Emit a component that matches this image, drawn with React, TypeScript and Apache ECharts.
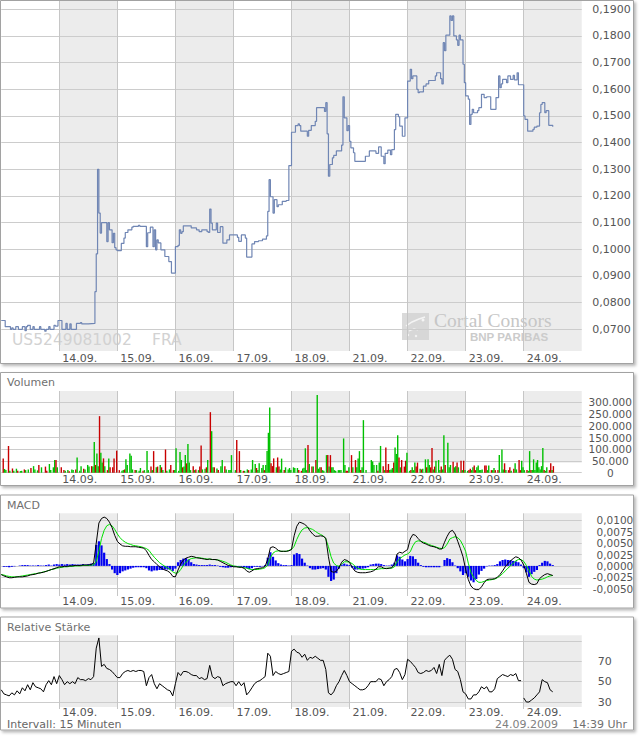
import React, { useEffect, useRef } from "react";
import * as echarts from "echarts";

// ---------------- data ----------------
// x unit: one 15-minute interval; a trading day runs 09:00–20:00 = 44 intervals
const SLOTS_PER_DAY = 44;
const SAMPLE_STEP = 2; // indicator values are read every half hour (2 intervals)
const DAY_LABELS = ["11.09.", "14.09.", "15.09.", "16.09.", "17.09.", "18.09.", "21.09.", "22.09.", "23.09.", "24.09."];
const SHADED_DAYS = [1, 3, 5, 7, 9];

const PRICE_TICKS = { min: 0.07, max: 0.19, step: 0.01 };
const VOLUME_TICKS = { min: 0, max: 300000, step: 50000 };
const MACD_TICKS = { min: -0.005, max: 0.01, step: 0.0025 };
const RSI_TICKS = { min: 30, max: 90, step: 20 };
const RSI_UNLABELED = [90];

// price steps: [interval within day, price in EUR]
const PRICE_1109 = [[0, 0.0733], [3, 0.071], [7, 0.07], [8, 0.0705], [9, 0.07], [11, 0.071], [13, 0.07], [16, 0.071], [18, 0.0695], [19, 0.071], [20, 0.0715], [22, 0.07], [24, 0.071], [25, 0.07], [29, 0.071], [30, 0.07], [33, 0.0693], [34, 0.07], [36, 0.071], [37, 0.07], [40, 0.0715], [41, 0.0712], [43, 0.0733]];
const PRICE_1409 = [[0, 0.0733], [2, 0.07], [5, 0.0722], [6, 0.07], [8, 0.072], [9, 0.07], [13, 0.0722], [16, 0.0725], [17, 0.072], [22, 0.0722], [27, 0.0841], [28, 0.0983], [29, 0.13], [30, 0.1136], [31, 0.1061], [32, 0.11], [36, 0.1029], [37, 0.11], [38, 0.1073], [40, 0.1025], [41, 0.106], [42, 0.1006], [43, 0.0998]];
const PRICE_1509 = [[0, 0.0995], [3, 0.1022], [5, 0.1042], [6, 0.1063], [8, 0.1073], [11, 0.1083], [12, 0.1086], [16, 0.109], [17, 0.1086], [22, 0.101], [23, 0.1062], [25, 0.1083], [27, 0.101], [28, 0.1073], [29, 0.0998], [30, 0.1035], [31, 0.1024], [33, 0.0998], [36, 0.0973], [39, 0.0954], [41, 0.0911]];
const PRICE_1609 = [[0, 0.101], [2, 0.1015], [3, 0.1073], [4, 0.106], [5, 0.1066], [6, 0.1088], [12, 0.108], [16, 0.1073], [18, 0.1066], [20, 0.1073], [24, 0.1066], [25, 0.1063], [26, 0.1151], [27, 0.1098], [28, 0.1073], [31, 0.1098], [32, 0.1063], [34, 0.1085], [36, 0.1023], [39, 0.1035], [41, 0.1054]];
const PRICE_1709 = [[0, 0.1054], [3, 0.1045], [4, 0.103], [6, 0.1054], [9, 0.1042], [10, 0.0971], [14, 0.102], [16, 0.1029], [19, 0.1032], [22, 0.1038], [25, 0.105], [26, 0.1142], [27, 0.1261], [28, 0.1197], [30, 0.1136], [31, 0.1186], [33, 0.116], [34, 0.1167], [37, 0.118], [40, 0.1183], [42, 0.1314]];
const PRICE_1809 = [[0, 0.1439], [3, 0.1464], [5, 0.147], [6, 0.1464], [7, 0.1443], [12, 0.1424], [13, 0.1446], [15, 0.1464], [18, 0.148], [19, 0.1531], [25, 0.1517], [26, 0.155], [27, 0.1433], [28, 0.1274], [29, 0.1318], [31, 0.1343], [32, 0.1352], [34, 0.1369], [38, 0.1391], [39, 0.1572], [40, 0.1493], [42, 0.1445], [43, 0.1464]];
const PRICE_2109 = [[0, 0.1405], [1, 0.138], [3, 0.1362], [4, 0.133], [12, 0.1349], [15, 0.1369], [20, 0.136], [22, 0.1384], [24, 0.1349], [26, 0.1321], [27, 0.136], [29, 0.1372], [31, 0.1355], [32, 0.1374], [34, 0.1449], [35, 0.1506], [37, 0.1497], [38, 0.1462], [40, 0.1424], [42, 0.1493]];
const PRICE_2209 = [[0, 0.1631], [2, 0.1675], [3, 0.164], [4, 0.165], [7, 0.16], [8, 0.1587], [9, 0.159], [12, 0.1612], [14, 0.162], [16, 0.1633], [21, 0.165], [22, 0.1662], [25, 0.164], [26, 0.162], [27, 0.1775], [28, 0.1745], [29, 0.1803], [32, 0.1875], [33, 0.1858], [34, 0.1875], [35, 0.18], [37, 0.1785], [38, 0.1765], [39, 0.1803], [40, 0.1785], [42, 0.1694], [43, 0.1625]];
const PRICE_2309 = [[0, 0.1575], [2, 0.1563], [3, 0.1468], [4, 0.1506], [5, 0.1525], [6, 0.1512], [9, 0.152], [10, 0.1531], [12, 0.1581], [14, 0.1569], [16, 0.1572], [19, 0.1525], [23, 0.1569], [25, 0.165], [26, 0.1606], [27, 0.162], [28, 0.1637], [31, 0.1625], [32, 0.165], [34, 0.1637], [36, 0.1652], [37, 0.1635], [39, 0.1662], [40, 0.1617]];
const PRICE_2409 = [[0, 0.15], [1, 0.1487], [3, 0.1443], [7, 0.145], [8, 0.1458], [10, 0.1462], [12, 0.1512], [13, 0.1543], [14, 0.155], [16, 0.1512], [17, 0.152], [19, 0.1465], [22, 0.146]];
const PRICE_DAYS = [PRICE_1109, PRICE_1409, PRICE_1509, PRICE_1609, PRICE_1709, PRICE_1809, PRICE_2109, PRICE_2209, PRICE_2309, PRICE_2409];

// volume per 15-minute interval, in thousands; negative = traded on a down tick
const VOL_1109 = [0, -61, 16, 11, 0, -114, 8, 0, -18, 8, 0, 17, -8, 0, 7, 8, 0, -14, 11, 0, 14, 0, -20, 0, 28, 14, 0, 10, -33, 0, 23, 0, 0, -26, -8, 0, 37, 11, 0, 23, 54, -54, 23, 0];
const VOL_1409 = [0, -23, 0, -11, 8, 0, 11, -6, 0, 14, 11, 0, -14, 65, 0, 8, 28, 0, -17, 14, 0, 33, 26, 0, -28, 26, 131, -33, 82, 28, -241, 85, 43, -61, 28, 0, -11, 61, -23, 0, -23, -61, 0, -94];
const VOL_1509 = [0, -11, 0, 8, 11, -14, 57, 33, 0, 82, 72, 14, 0, -11, 11, 0, 8, 20, 0, -8, 11, 0, 92, 11, 0, -26, 11, -92, 0, 23, -26, 0, 33, -23, 11, 0, -99, 8, 0, 14, -33, 0, -11, 11];
const VOL_1609 = [104, 0, 8, 88, 54, -23, 26, 75, -40, 122, 43, 11, 0, -28, 11, -14, 0, 11, -26, -116, 14, 0, 17, -23, 54, 0, -258, 177, 23, -23, 0, 18, -11, 0, 28, 54, 0, -28, 14, 0, 11, 11, 75, 0];
const VOL_1709 = [0, 11, -139, 0, -92, 11, 0, -8, 8, 0, 14, -11, 0, 14, 54, 0, 37, -20, 11, 40, 0, 20, 33, -11, 33, 92, 170, 278, -40, -28, -61, 0, 23, -65, -26, 14, 60, 0, -11, 23, 0, 14, 20, 11];
const VOL_1809 = [0, 23, 20, 0, 20, -11, 0, -8, 18, 21, 104, 11, -118, 37, 0, -26, 26, 0, -54, 331, 17, 23, -23, 11, 8, 0, 75, -75, 26, -75, 23, 23, 11, 8, 0, 11, 11, 11, 0, 146, 33, -8, -8, 23];
const VOL_2109 = [0, -75, 23, 0, -54, 23, 61, 92, -11, 23, 224, 0, 11, 0, 0, 0, 54, 48, 33, 0, 33, -8, 43, 114, 0, -28, 11, -107, -11, -37, 11, 14, 20, -43, 107, 80, 160, -65, 23, -54, 0, -26, -51, 85];
const VOL_2209 = [0, 8, -11, 23, 11, 43, -26, -43, 0, 17, -14, 17, 0, 57, -23, 57, 33, -23, -105, 14, -26, 51, 0, 54, 11, -26, 14, 160, -33, 0, 128, 23, 33, 0, -47, 23, 28, -43, 23, 0, -51, 11, -51, 11];
const VOL_2309 = [0, 8, -11, -17, 11, 23, -31, -11, 23, 31, 11, 11, 14, 0, -31, -31, 11, 31, 0, -11, 11, 20, -11, 0, -11, 75, 0, 99, 14, -40, 11, 0, -11, -23, 8, 0, -17, 40, 14, 0, -54, -11, 51, 23];
const VOL_2409 = [11, 0, -11, 8, 92, -11, 11, 57, 11, 43, 54, 23, 14, 28, 105, -11, 8, 23, 0, -11, -40, 11, -28];
const VOLUME_DAYS = [VOL_1109, VOL_1409, VOL_1509, VOL_1609, VOL_1709, VOL_1809, VOL_2109, VOL_2209, VOL_2309, VOL_2409];

// MACD (x 0.001), half-hourly
const MACD_1109 = [-1.9, -2.2, -2.4, -2.6, -2.6, -2.5, -2.4, -2.4, -2.4, -2.3, -2.2, -2.0, -1.9, -1.8, -1.6, -1.5, -1.4, -1.2, -1.0, -0.8, -0.6, -0.4];
const MACD_1409 = [-0.2, -0.2, -0.1, -0.1, 0, 0, 0.1, 0.1, 0.1, 0.2, 0.2, 0.2, 0.3, 0.6, 5.0, 9.4, 10.4, 10.7, 10.4, 9.6, 8.4, 6.7];
const MACD_1509 = [5.4, 4.8, 4.4, 4.3, 4.3, 4.2, 4.2, 4.2, 4.1, 4.0, 3.9, 3.3, 2.3, 1.4, 0.9, 0.3, -0.2, -0.6, -0.9, -1.1, -1.5, -2.3];
const MACD_1609 = [-2.4, -0.9, 0.4, 1.3, 1.7, 1.9, 2.1, 2.0, 1.8, 1.7, 1.6, 1.5, 1.4, 1.5, 1.4, 1.4, 1.3, 1.0, 0.7, 0.4, 0.1, 0];
const MACD_1709 = [-0.2, -0.2, -0.3, -0.3, -0.5, -1.1, -1.4, -1.1, -0.7, -0.6, -0.5, -0.4, -0.1, 1.5, 4.0, 4.2, 3.9, 3.4, 3.2, 3.2, 3.2, 3.3];
const MACD_1809 = [3.6, 6.6, 8.7, 9.6, 9.4, 9.1, 8.6, 7.7, 7.0, 6.5, 6.5, 6.6, 6.5, 6.1, 2.0, -1.2, -1.4, -1.2, -0.4, 0.8, 1.4, 1.2];
const MACD_2109 = [0.8, -0.3, -1.1, -1.4, -1.5, -1.5, -1.5, -1.4, -1.3, -1.1, -0.7, -0.2, -0.2, -0.5, -0.6, -0.5, -0.4, 0.4, 2.6, 3.0, 2.8, 3.2];
const MACD_2209 = [3.6, 5.9, 6.9, 6.7, 6.0, 5.4, 5.0, 4.8, 4.5, 4.3, 4.2, 4.0, 3.7, 3.7, 5.2, 6.5, 7.5, 7.8, 7.0, 5.4, 3.8, 2.0];
const MACD_2309 = [-0.8, -3.0, -4.4, -5.0, -5.2, -5.2, -4.6, -3.7, -3.0, -2.9, -2.9, -2.8, -2.5, -1.9, -1.1, -0.2, 0.5, 1.1, 1.6, 2.0, 1.8, 1.3];
const MACD_2409 = [0.2, -1.6, -3.6, -4.0, -4.1, -3.9, -2.8, -2.3, -1.9, -1.7, -1.9, -2.1];
const MACD_DAYS = [MACD_1109, MACD_1409, MACD_1509, MACD_1609, MACD_1709, MACD_1809, MACD_2109, MACD_2209, MACD_2309, MACD_2409];

const SIGNAL_1109 = [-1.9, -2.0, -2.2, -2.3, -2.4, -2.4, -2.4, -2.3, -2.2, -2.1, -2.0, -1.9, -1.8, -1.7, -1.6, -1.5, -1.3, -1.2, -1.0, -0.8, -0.7, -0.5];
const SIGNAL_1409 = [-0.4, -0.3, -0.2, -0.2, -0.1, -0.1, 0, 0, 0, 0.1, 0.1, 0.1, 0.2, 0.2, 1.0, 3.2, 6.0, 7.8, 8.8, 9.1, 8.8, 8.0];
const SIGNAL_1509 = [7.0, 6.2, 5.6, 5.2, 4.9, 4.7, 4.5, 4.4, 4.3, 4.2, 4.0, 3.8, 3.4, 2.6, 1.9, 1.3, 0.7, 0.3, -0.1, -0.4, -0.8, -1.3];
const SIGNAL_1609 = [-1.6, -1.5, -0.8, 0.1, 0.8, 1.3, 1.6, 1.7, 1.8, 1.8, 1.7, 1.6, 1.5, 1.5, 1.4, 1.4, 1.3, 1.2, 1.0, 0.8, 0.5, 0.2];
const SIGNAL_1709 = [0.0, -0.1, -0.2, -0.3, -0.4, -0.5, -0.7, -0.8, -0.8, -0.8, -0.7, -0.6, -0.4, 0.2, 1.8, 2.8, 3.2, 3.3, 3.2, 3.2, 3.2, 3.4];
const SIGNAL_1809 = [3.6, 4.3, 5.8, 7.0, 7.9, 8.3, 8.4, 8.2, 8.0, 7.6, 7.2, 6.9, 6.6, 5.9, 4.2, 2.0, 0.6, 0.1, -0.1, 0.4, 0.9, 0.9];
const SIGNAL_2109 = [0.8, 0.5, 0.0, -0.5, -0.7, -0.8, -0.8, -0.8, -0.8, -0.8, -0.8, -0.7, -0.6, -0.6, -0.5, -0.5, -0.5, -0.2, 0.9, 1.6, 2.0, 2.4];
const SIGNAL_2209 = [2.6, 3.1, 4.4, 5.3, 5.5, 5.4, 5.2, 5.0, 4.7, 4.5, 4.3, 4.1, 3.9, 3.8, 4.0, 4.8, 5.9, 6.2, 6.4, 6.2, 5.6, 4.5];
const SIGNAL_2309 = [3.2, 0.6, -1.4, -2.5, -3.2, -3.6, -3.6, -3.4, -3.2, -3.1, -3.0, -2.9, -2.6, -2.2, -1.7, -1.1, -0.5, 0.0, 0.6, 1.1, 1.4, 1.4];
const SIGNAL_2409 = [1.0, 0.1, -1.0, -2.3, -2.9, -3.1, -3.0, -2.9, -2.7, -2.4, -2.2, -2.1];
const SIGNAL_DAYS = [SIGNAL_1109, SIGNAL_1409, SIGNAL_1509, SIGNAL_1609, SIGNAL_1709, SIGNAL_1809, SIGNAL_2109, SIGNAL_2209, SIGNAL_2309, SIGNAL_2409];

const HIST_1109 = [0.0, -0.2, -0.2, -0.3, -0.2, -0.1, 0.0, 0.1, 0.2, 0.2, 0.2, 0.1, 0.1, 0.1, 0.2, 0.1, 0.1, 0.2, 0.3, 0.1, 0.3, 0.4];
const HIST_1409 = [0.3, 0.4, 0.3, 0.4, 0.3, 0.4, 0.3, 0.3, 0.3, 0.4, 0.3, 0.4, 0.5, 0.6, 4.6, 5.4, 4.5, 2.9, 1.5, 0.4, -0.8, -1.6];
const HIST_1509 = [-2.0, -1.6, -1.2, -1.0, -0.8, -0.6, -0.4, -0.3, -0.3, -0.3, -0.3, -0.5, -1.0, -1.2, -1.0, -1.0, -0.9, -0.9, -0.8, -0.8, -0.8, -1.1];
const HIST_1609 = [-0.6, 0.8, 1.3, 1.6, 1.7, 1.4, 0.8, 0.4, 0.3, 0.2, 0.2, 0.2, 0.2, 0.3, 0.2, 0.2, 0.1, -0.2, -0.3, -0.4, -0.4, -0.3];
const HIST_1709 = [-0.2, -0.2, -0.2, -0.2, -0.3, -0.5, -0.7, -0.5, -0.2, -0.2, -0.2, -0.1, 0.2, 1.8, 3.0, 2.0, 1.2, 0.6, 0.3, 0.2, 0.2, 0.1];
const HIST_1809 = [0.2, 2.5, 2.8, 2.6, 1.6, 0.7, 0.1, -0.5, -0.8, -0.8, -0.7, -0.6, -0.5, -0.8, -2.4, -3.3, -3.0, -1.6, -0.6, 0.3, 0.5, 0.3];
const HIST_2109 = [0.2, -0.4, -0.8, -0.8, -0.7, -0.6, -0.5, -0.3, 0.3, 0.4, 0.5, 0.5, 0.4, 0.2, 0.1, 0.1, 0.3, 0.7, 2.3, 2.0, 1.4, 1.0];
const HIST_2209 = [1.5, 2.2, 2.1, 1.5, 0.7, 0.2, -0.2, -0.3, -0.3, -0.3, -0.3, -0.3, -0.3, 0.0, 1.3, 1.7, 1.5, 0.8, 0.1, -0.5, -1.2, -2.0];
const HIST_2309 = [-1.6, -2.4, -3.2, -3.6, -2.9, -1.9, -1.1, -0.6, -0.1, 0.1, 0.1, 0.2, 0.4, 1.0, 1.3, 1.4, 1.3, 1.3, 1.1, 1.0, 0.8, 0.3];
const HIST_2409 = [-0.5, -1.4, -2.4, -1.8, -1.3, -0.9, 0.2, 0.7, 1.1, 1.0, 0.5, 0.2];
const HIST_DAYS = [HIST_1109, HIST_1409, HIST_1509, HIST_1609, HIST_1709, HIST_1809, HIST_2109, HIST_2209, HIST_2309, HIST_2409];

// Relative Stärke, half-hourly
const RSI_1109 = [42, 38, 37, 36, 39, 37, 41, 38, 44, 41, 47, 42, 49, 45, 44, 43, 40, 47, 51, 47, 55, 48];
const RSI_1409 = [56, 52, 47, 50, 48, 50, 48, 54, 52, 52, 51, 53, 52, 55, 83, 93, 65, 67, 63, 62, 60, 57];
const RSI_1509 = [54, 54, 58, 60, 61, 60, 61, 60, 61, 61, 60, 46, 54, 57, 48, 43, 48, 46, 44, 42, 41, 36];
const RSI_1609 = [48, 59, 56, 60, 60, 59, 57, 56, 56, 53, 54, 52, 53, 66, 55, 53, 55, 54, 46, 48, 49, 50];
const RSI_1709 = [50, 46, 50, 46, 49, 37, 40, 44, 48, 50, 51, 53, 55, 78, 75, 56, 60, 58, 57, 58, 59, 60];
const RSI_1809 = [80, 82, 79, 78, 74, 77, 71, 74, 73, 75, 73, 71, 71, 62, 39, 37, 40, 46, 50, 56, 61, 56];
const RSI_2109 = [50, 48, 46, 44, 42, 42, 43, 46, 50, 50, 50, 53, 52, 46, 50, 52, 55, 62, 63, 59, 52, 57];
const RSI_2209 = [72, 70, 67, 64, 59, 58, 59, 61, 60, 61, 64, 58, 67, 56, 71, 74, 76, 72, 62, 60, 52, 40];
const RSI_2309 = [38, 33, 33, 37, 37, 40, 45, 43, 45, 40, 40, 43, 53, 55, 57, 56, 55, 57, 56, 58, 51, 51];
const RSI_2409 = [34, 30, 30, 32, 34, 37, 40, 52, 50, 49, 42, 40];
const RSI_DAYS = [RSI_1109, RSI_1409, RSI_1509, RSI_1609, RSI_1709, RSI_1809, RSI_2109, RSI_2209, RSI_2309, RSI_2409];
const RSI_BREAK_BEFORE_DAY = 9; // the line is interrupted at the start of 24.09.

const TITLES = ["Volumen", "MACD", "Relative Stärke"];
const INSTRUMENT = "US5249081002";
const EXCHANGE = "FRA";
const FOOTER_LEFT = "Intervall: 15 Minuten";
const FOOTER_DATE = "24.09.2009";
const FOOTER_TIME = "14:39 Uhr";

// ---------------- layout / style ----------------
const FONT = '"DejaVu Sans", Verdana, sans-serif';
const LEFT = 1.25;
const WIDTH = 580.5;
const LABEL_COLOR = "#555555";
const GRID_COLOR = "#cccccc";
const BAND_COLOR = "#ececec";

const fmtPrice = (v: number) => v.toFixed(4).replace(".", ",");
const fmtVolume = (v: number) => (v === 0 ? "0" : `${Math.round(v / 1000)}.000`);
const fmtMacd = (v: number) => (Math.abs(v) < 1e-9 ? 0 : v).toFixed(4).replace(".", ",");
const fmtRsi = (v: number) => (RSI_UNLABELED.includes(Math.round(v)) ? "" : String(Math.round(v)));

const PANELS = [
  { frame: [0, 363], band: [1, 351], data: [1, 351], ticks: [9.3, 329.3], axis: PRICE_TICKS, fmt: fmtPrice, align: "left", margin: 10.5, xMargin: 7, fs: 11 },
  { frame: [372, 113], band: [391, 462.7], data: [391, 472.7], ticks: [402.3, 472.7], axis: VOLUME_TICKS, fmt: fmtVolume, align: "center", margin: 28.5, xMargin: 7, fs: 10.5 },
  { frame: [494.5, 113], band: [513.3, 585], data: [513.3, 596], ticks: [520.3, 588.7], axis: MACD_TICKS, fmt: fmtMacd, align: "right", margin: 51.5, xMargin: 5, fs: 10.5 },
  { frame: [616.5, 113], band: [635.3, 707], data: [635.3, 709], ticks: [641, 702], axis: RSI_TICKS, fmt: fmtRsi, align: "center", margin: 23, xMargin: 3.5, fs: 11 },
];

function buildOption() {
  const N = SLOTS_PER_DAY * DAY_LABELS.length;
  const grids: any[] = [];
  const xAxes: any[] = [];
  const yAxes: any[] = [];
  const series: any[] = [];

  const hiddenX = (gridIndex: number) => ({ type: "value", gridIndex, min: 0, max: N, show: false });
  const dayAxis = (gridIndex: number, margin: number) => ({
    type: "value", gridIndex, min: 0, max: N, interval: SLOTS_PER_DAY, z: 1,
    axisLine: { show: false }, axisTick: { show: false },
    splitLine: { show: true, showMinLine: false, showMaxLine: false, lineStyle: { color: "#c6c6c6", width: 1 } },
    axisLabel: {
      show: true, showMinLabel: false, showMaxLabel: false,
      formatter: (v: number) => DAY_LABELS[Math.round(v / SLOTS_PER_DAY)] ?? "",
      align: "left", verticalAlign: "middle", padding: [0, 0, 0, 3], margin, lineHeight: 10,
      color: LABEL_COLOR, fontSize: 11, fontFamily: FONT,
    },
  });

  PANELS.forEach((p: any, i: number) => {
    const gb = 3 * i, gd = 3 * i + 1, gl = 3 * i + 2;
    grids.push({ left: LEFT, width: WIDTH, top: p.band[0], height: p.band[1] - p.band[0] });
    grids.push({ left: LEFT, width: WIDTH, top: p.data[0], height: p.data[1] - p.data[0] });
    grids.push({ left: LEFT, width: WIDTH, top: p.ticks[0], height: p.ticks[1] - p.ticks[0] });
    xAxes.push(hiddenX(gb), dayAxis(gd, p.xMargin), hiddenX(gl));
    const ppu = (p.ticks[1] - p.ticks[0]) / (p.axis.max - p.axis.min);
    const dMin = p.axis.min - (p.data[1] - p.ticks[1]) / ppu;
    const dMax = p.axis.max + (p.ticks[0] - p.data[0]) / ppu;
    yAxes.push({ type: "value", gridIndex: gb, min: 0, max: 1, show: false });
    yAxes.push({ type: "value", gridIndex: gd, min: dMin, max: dMax, show: false });
    yAxes.push({
      type: "value", gridIndex: gl, min: p.axis.min, max: p.axis.max, interval: p.axis.step, position: "right", z: 1,
      axisLine: { show: false }, axisTick: { show: false },
      splitLine: { show: true, lineStyle: { color: GRID_COLOR, width: 1 } },
      axisLabel: { formatter: p.fmt, align: p.align, margin: p.margin, lineHeight: 10, color: LABEL_COLOR, fontSize: p.fs, fontFamily: FONT },
    });
    series.push({
      type: "custom", xAxisIndex: gb, yAxisIndex: gb, z: 0, silent: true,
      data: SHADED_DAYS.map((d) => [d * SLOTS_PER_DAY, (d + 1) * SLOTS_PER_DAY]),
      renderItem: (params: any, api: any) => {
        const x0 = api.coord([api.value(0), 0.5])[0];
        const x1 = api.coord([api.value(1), 0.5])[0];
        const cs = params.coordSys;
        return { type: "rect", shape: { x: x0, y: cs.y, width: x1 - x0, height: cs.height }, style: { fill: BAND_COLOR } };
      },
    });
  });

  // price
  const priceData = PRICE_DAYS.flatMap((day, d) => day.map(([s, v]) => [d * SLOTS_PER_DAY + s, v]));
  series.push({
    type: "line", xAxisIndex: 1, yAxisIndex: 1, step: "end", symbol: "none", z: 3, silent: true,
    data: priceData, lineStyle: { color: "#7086b4", width: 1.2 },
  });

  // volume
  const volumeData: any[] = [];
  VOLUME_DAYS.forEach((day, d) => day.forEach((v, s) => {
    if (v === 0) return;
    volumeData.push({ value: [d * SLOTS_PER_DAY + s + 0.5, Math.abs(v) * 1000], itemStyle: { color: v > 0 ? "#00c000" : "#c80000" } });
  }));
  series.push({ type: "bar", xAxisIndex: 4, yAxisIndex: 4, barWidth: 1.4, z: 3, silent: true, data: volumeData });

  // MACD
  const sampled = (days: number[][], scale: number) =>
    days.flatMap((day, d) => day.map((v, j) => [d * SLOTS_PER_DAY + j * SAMPLE_STEP, v * scale]));
  series.push({ type: "bar", xAxisIndex: 7, yAxisIndex: 7, barWidth: 2.2, z: 3, silent: true, itemStyle: { color: "#0000f0" }, data: sampled(HIST_DAYS, 0.001) });
  series.push({ type: "line", xAxisIndex: 7, yAxisIndex: 7, symbol: "none", z: 4, silent: true, lineStyle: { color: "#00e000", width: 1 }, data: sampled(SIGNAL_DAYS, 0.001) });
  series.push({ type: "line", xAxisIndex: 7, yAxisIndex: 7, symbol: "none", z: 5, silent: true, lineStyle: { color: "#000000", width: 1 }, data: sampled(MACD_DAYS, 0.001) });

  // RSI (two segments)
  const rsiAll = RSI_DAYS.map((day, d) => day.map((v, j) => [d * SLOTS_PER_DAY + j * SAMPLE_STEP, v]));
  const seg1 = rsiAll.slice(0, RSI_BREAK_BEFORE_DAY).flat();
  const seg2 = rsiAll.slice(RSI_BREAK_BEFORE_DAY).flat();
  [seg1, seg2].forEach((seg) => series.push({
    type: "line", xAxisIndex: 10, yAxisIndex: 10, symbol: "none", z: 4, silent: true,
    lineStyle: { color: "#000000", width: 1 }, data: seg,
  }));

  // graphics: frames, titles, footer, watermark, logo
  const txt = (text: string, x: number, y: number, size: number, color: string, align = "left", family = FONT, weight = "normal", z = 6, lineHeight = 11) => ({
    type: "text", x, y, z, silent: true,
    style: { text, fill: color, font: `${weight} ${size}px ${family}`, lineHeight, align, textAlign: align, verticalAlign: "middle", textVerticalAlign: "middle" },
  });
  const graphics: any[] = [];
  PANELS.forEach((p: any) => {
    graphics.push({
      type: "rect", z: -5, silent: true,
      shape: { x: 0.5, y: p.frame[0] + 0.5, width: 633, height: p.frame[1] },
      style: { fill: "#ffffff", stroke: "#a2a2a2", lineWidth: 1, shadowBlur: 3, shadowOffsetX: 2, shadowOffsetY: 2, shadowColor: "rgba(0,0,0,0.28)" },
    });
  });
  graphics.push(txt(TITLES[0], 7, 382, 11, "#707070"));
  graphics.push(txt(TITLES[1], 7, 505.5, 11, "#707070"));
  graphics.push(txt(TITLES[2], 7, 627, 11, "#707070"));
  graphics.push(txt(FOOTER_LEFT, 7, 724, 11, "#666666"));
  graphics.push(txt(FOOTER_DATE, 558, 724, 11, "#808080", "right"));
  graphics.push(txt(FOOTER_TIME, 627, 724, 11, "#707070", "right"));
  graphics.push(txt(INSTRUMENT, 12, 340, 15.5, "#d2d2d2", "left", FONT, "normal", 0.5, 14));
  graphics.push(txt(EXCHANGE, 152, 340, 15.5, "#d2d2d2", "left", FONT, "normal", 0.5, 14));
  // Cortal Consors / BNP Paribas logo
  graphics.push({ type: "rect", z: 0.5, silent: true, shape: { x: 402, y: 313, width: 27, height: 27 }, style: { fill: "#d4d4d4", opacity: 0.85 } });
  graphics.push({ type: "polyline", z: 0.6, silent: true, shape: { points: [[406, 326], [412, 322], [419, 319], [425, 317]] }, style: { stroke: "#f4f4f4", lineWidth: 1.5, fill: "none" } });
  graphics.push({ type: "polyline", z: 0.6, silent: true, shape: { points: [[409, 331], [414, 329], [418, 330]] }, style: { stroke: "#f4f4f4", lineWidth: 1.2, fill: "none" } });
  graphics.push({ type: "circle", z: 0.6, silent: true, shape: { cx: 408, cy: 335, r: 1.2 }, style: { fill: "#f4f4f4" } });
  graphics.push({ type: "circle", z: 0.6, silent: true, shape: { cx: 416, cy: 336, r: 1.2 }, style: { fill: "#f4f4f4" } });
  graphics.push({ type: "circle", z: 0.6, silent: true, shape: { cx: 423, cy: 320, r: 1.5 }, style: { fill: "#f4f4f4" } });
  graphics.push(txt("Cortal Consors", 434, 320, 19.5, "#c6c6c6", "left", '"Liberation Serif", serif', "normal", 0.6, 15));
  graphics.push(txt("BNP PARIBAS", 470, 337, 11.5, "#cbcbcb", "left", '"Liberation Sans", Arial, sans-serif', "bold", 0.6, 9));

  return {
    animation: false,
    backgroundColor: "#ffffff",
    grid: grids,
    xAxis: xAxes,
    yAxis: yAxes,
    series,
    graphic: { elements: graphics },
  };
}

export default function App() {
  const ref = useRef<HTMLDivElement>(null);
  useEffect(() => {
    document.body.style.margin = "0";
    const chart = echarts.init(ref.current as HTMLDivElement, undefined, { renderer: "svg" });
    chart.setOption(buildOption() as any);
    return () => chart.dispose();
  }, []);
  return <div ref={ref} style={{ width: 640, height: 736 }} />;
}
